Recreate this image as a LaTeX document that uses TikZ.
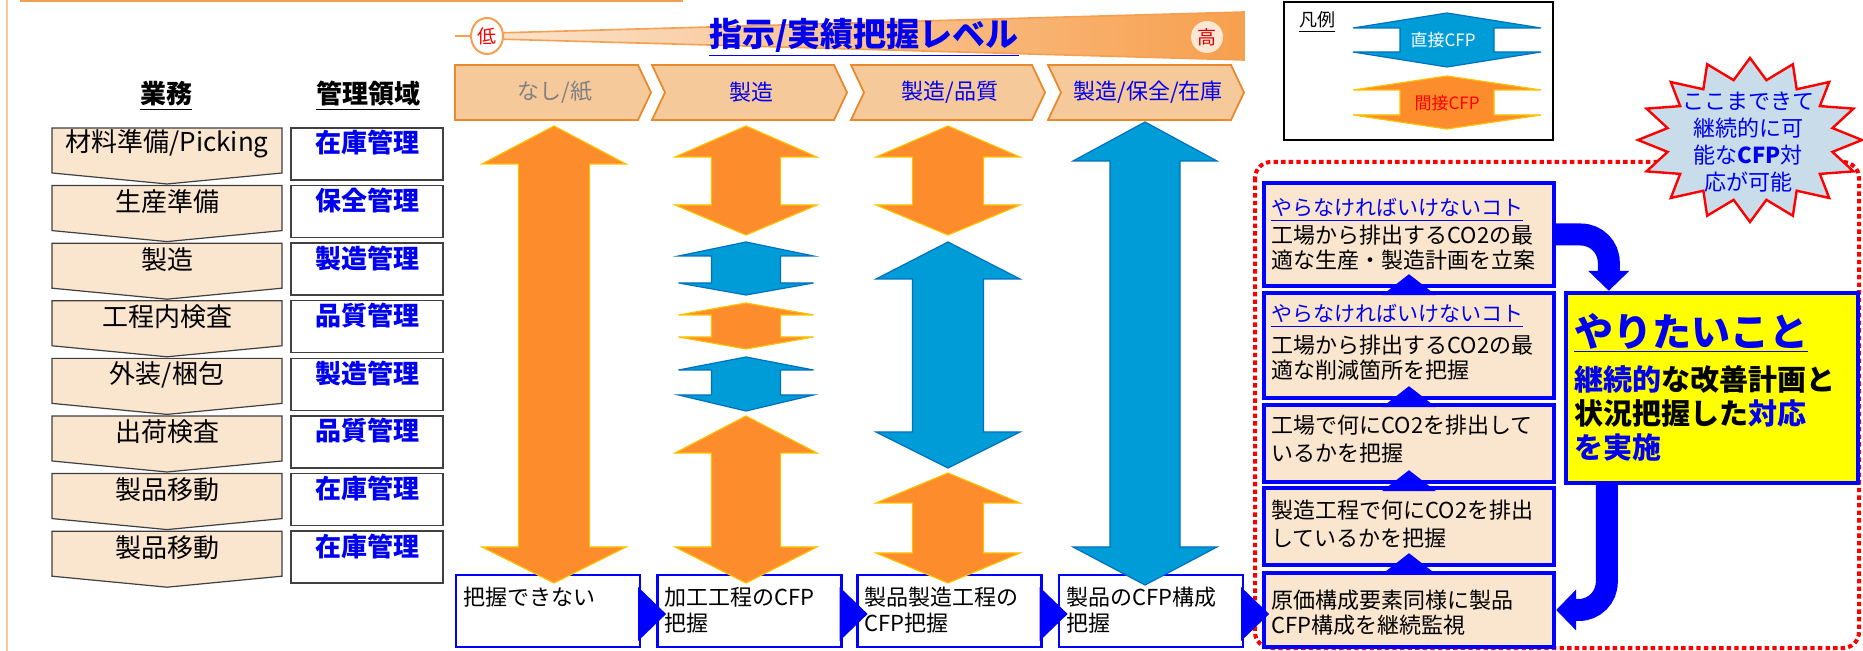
\documentclass[tikz,border=0pt]{standalone}
\usepackage{fontspec}
\setmainfont{Noto Sans CJK JP}
\usetikzlibrary{calc,arrows.meta,shapes.geometric}
\definecolor{rowfill}{HTML}{FAE5CE}
\definecolor{hdrfill}{HTML}{F6C99B}
\definecolor{hdredge}{HTML}{E8892C}
\definecolor{oarrfill}{HTML}{FC8C2C}
\definecolor{oarredge}{HTML}{FFC000}
\definecolor{barrfill}{HTML}{009CD8}
\definecolor{barredge}{HTML}{0070C0}
\definecolor{myblue}{HTML}{0000F0}
\definecolor{boxblue}{HTML}{0000FF}
\definecolor{wedgeL}{HTML}{FBE2CC}
\definecolor{wedgeR}{HTML}{F7A04E}
\definecolor{wedgeEdge}{HTML}{F4A050}
\definecolor{starfill}{HTML}{C9DCEA}
\definecolor{topline}{HTML}{F0A050}
\definecolor{leftline}{HTML}{F8C8A0}
\definecolor{highfill}{HTML}{FCE6D4}
\definecolor{ylw}{HTML}{FFFF00}

% up-down double arrow: cx, top tip, head base 1, head base 2, bottom tip, head half width, shaft half width, style
\newcommand\udarr[8]{%
 \filldraw[#8] (#1,#2) -- ({#1+#6},#3) -- ({#1+#7},#3) -- ({#1+#7},#4) -- ({#1+#6},#4) -- (#1,#5)
   -- ({#1-#6},#4) -- ({#1-#7},#4) -- ({#1-#7},#3) -- ({#1-#6},#3) -- cycle;}

% business row: index, top, text, management text
\newcommand\bizrow[4]{%
 \filldraw[rowch] (52,#2) -- (282,#2) -- (282,{#2+45}) -- (167,{#2+56}) -- (52,{#2+45}) -- cycle;
 \node[rowtxt] (r#1) at (167,{#2+16}) {#3};
 \node[mbox] (m#1) at (367,{#2+26}) {};
 \node[mtxt] (mt#1) at (367,{#2+15}) {#4};}

% header chevron: x0, x1, left notch, text, name
\newcommand\hchev[5]{%
 \filldraw[hch] (#1,65) -- ({#2-13},65) -- (#2,92.5) -- ({#2-13},120) -- (#1,120) -- ({#1+#3},92.5) -- cycle;
 \node[htxt] (#5) at ({(#1+#2)/2+2},92) {#4};}

\begin{document}
\begin{tikzpicture}[x=0.5pt,y=-0.5pt,
  rowch/.style={fill=rowfill, draw=black!75, line width=0.6pt},
  rowtxt/.style={font=\fontsize{13pt}{15pt}\selectfont, inner sep=0},
  mbox/.style={draw=black!75, line width=0.7pt, fill=white, minimum width=76pt, minimum height=26pt, inner sep=0},
  mtxt/.style={font=\fontsize{13pt}{15pt}\selectfont\bfseries, text=myblue, inner sep=0},
  hdr/.style={font=\fontsize{13pt}{15pt}\selectfont\bfseries, inner sep=0},
  hch/.style={fill=hdrfill, draw=hdredge, line width=0.9pt},
  htxt/.style={font=\fontsize{11pt}{13pt}\selectfont, text=myblue, inner sep=0},
  oarr/.style={fill=oarrfill, draw=oarredge, line width=0.6pt},
  barr/.style={fill=barrfill, draw=barredge, line width=0.6pt},
  bbox/.style={draw=boxblue, line width=1.1pt, fill=white, minimum width=92pt, minimum height=36pt, inner sep=0},
  btxt/.style={font=\fontsize{11pt}{13pt}\selectfont, inner sep=0, anchor=west},
  rbox/.style={draw=boxblue, line width=2.2pt, fill=rowfill, minimum width=145pt, inner sep=0},
  rtxt/.style={font=\fontsize{11pt}{12pt}\selectfont, inner sep=0, anchor=west},
  utxt/.style={font=\fontsize{10.5pt}{12pt}\selectfont, inner sep=0, anchor=west, text=myblue},
  ytxt/.style={font=\fontsize{14.5pt}{16pt}\selectfont\bfseries, inner sep=0, anchor=west},
  tri/.style={fill=boxblue},
  barrow/.style={draw=boxblue, line width=11pt, rounded corners=14pt, -{Triangle[length=10pt,width=20pt]}},
  lowc/.style={ellipse, draw=wedgeEdge, line width=1pt, fill=white, minimum width=16pt, minimum height=18pt, inner sep=0, text=red, font=\fontsize{9.5pt}{10pt}\selectfont},
  highc/.style={circle, fill=highfill, minimum size=16pt, inner sep=0, text=red!85!black, font=\fontsize{9.5pt}{10pt}\selectfont},
  burst/.style={fill=starfill, draw=red, line width=1.2pt},
  dotr/.style={draw=red, line width=2pt, dash pattern=on 2.2pt off 1.6pt, rounded corners=8pt}
 ]
\useasboundingbox (0,0) rectangle (1863,651);

% page edges
\draw[topline, line width=1.5pt] (20,1) -- (683,1);
\draw[leftline, line width=1pt] (7,0) -- (7,651);

% left headers
\node[hdr] (h1) at (166,96) {\underline{業務}};
\node[hdr] (h2) at (368,96) {\underline{管理領域}};

\bizrow{1}{128}{材料準備/Picking}{在庫管理}
\bizrow{2}{185.6}{生産準備}{保全管理}
\bizrow{3}{243.2}{製造}{製造管理}
\bizrow{4}{300.8}{工程内検査}{品質管理}
\bizrow{5}{358.4}{外装/梱包}{製造管理}
\bizrow{6}{416}{出荷検査}{品質管理}
\bizrow{7}{473.6}{製品移動}{在庫管理}
\bizrow{8}{531.2}{製品移動}{在庫管理}

% level bar
\shadedraw[left color=wedgeL, right color=wedgeR, draw=wedgeEdge, line width=0.8pt]
  (495,33) -- (1244,12) -- (1244,60) -- (495,39) -- cycle;
\node[lowc] (low) at (487,36) {低};
\draw[wedgeEdge, line width=1pt] (455,36) -- (low.west);
\node[highc] (high) at (1207,37) {高};
\node[font=\fontsize{16.5pt}{18pt}\selectfont\bfseries, text=myblue, inner sep=0] (title) at (864,37) {\underline{指示/実績把握レベル}};

% header chevrons
\hchev{455}{651}{0}{{\color{gray}なし/紙}}{c1}
\hchev{652}{847}{13}{製造}{c2}
\hchev{851}{1045}{13}{製造/品質}{c3}
\hchev{1048}{1244}{13}{製造/保全/在庫}{c4}

% bottom boxes
\node[bbox] (b1) at (548,611) {};
\node[bbox] (b2) at (749.5,611) {};
\node[bbox] (b3) at (949.5,611) {};
\node[bbox] (b4) at (1151,611) {};
\node[btxt] at ($(b1.west)+(8,-14)$) {把握できない};
\node[btxt] at ($(b2.west)+(8,-14)$) {加工工程のCFP};
\node[btxt] at ($(b2.west)+(8,12)$) {把握};
\node[btxt] at ($(b3.west)+(8,-14)$) {製品製造工程の};
\node[btxt] at ($(b3.west)+(8,12)$) {CFP把握};
\node[btxt] at ($(b4.west)+(8,-14)$) {製品のCFP構成};
\node[btxt] at ($(b4.west)+(8,12)$) {把握};

% big arrows
\udarr{554}{126}{164}{547}{583}{72}{35.5}{oarr}
\udarr{746}{126}{157}{205}{235}{71}{34.5}{oarr}
\udarr{746}{242}{256}{283}{295}{67.5}{34.5}{barr}
\udarr{746}{303}{315}{337}{349}{67.5}{34.5}{oarr}
\udarr{746}{357}{370}{395}{411}{67.5}{34.5}{barr}
\udarr{746}{416}{453}{547}{583}{71}{34.5}{oarr}
\udarr{948}{126}{157}{205}{235}{72}{35.5}{oarr}
\udarr{948}{242}{279}{432}{468}{72}{35.5}{barr}
\udarr{948}{473}{503}{553}{583}{72}{35.5}{oarr}
\udarr{1145}{122}{161}{547}{585}{72}{35}{barr}

% dotted frame
\draw[dotr] (1255,162) rectangle (1859,648);

% right boxes
\node[rbox, minimum height=51.5pt] (A) at (1409,234.5) {};
\node[rbox, minimum height=52.5pt] (B) at (1409,345.5) {};
\node[rbox, minimum height=38.5pt] (C) at (1409,443.5) {};
\node[rbox, minimum height=38.5pt] (D) at (1409,526.5) {};
\node[rbox, minimum height=37pt] (E) at (1409,610) {};
\node[draw=boxblue, line width=2.2pt, fill=ylw, minimum width=146pt, minimum height=95pt, inner sep=0] (Y) at (1712,388) {};

\node[utxt] at (1271,210) {\underline{やらなければいけないコト}};
\node[rtxt] at (1271,235) {工場から排出するCO2の最};
\node[rtxt] at (1271,260) {適な生産・製造計画を立案};
\node[utxt] at (1271,316) {\underline{やらなければいけないコト}};
\node[rtxt] at (1271,345) {工場から排出するCO2の最};
\node[rtxt] at (1271,370) {適な削減箇所を把握};
\node[rtxt] at (1271,425) {工場で何にCO2を排出して};
\node[rtxt] at (1271,453) {いるかを把握};
\node[rtxt] at (1271,510) {製造工程で何にCO2を排出};
\node[rtxt] at (1271,538) {しているかを把握};
\node[rtxt] at (1271,600) {原価構成要素同様に製品};
\node[rtxt] at (1271,625) {CFP構成を継続監視};

\node[inner sep=0, anchor=west, font=\fontsize{19.5pt}{21pt}\selectfont\bfseries, text=myblue] at (1574,333) {\underline{やりたいこと}};
\node[ytxt] at (1574,380) {{\color{myblue}継続的}な改善計画と};
\node[ytxt] at (1574,413) {状況把握した{\color{myblue}対応}};
\node[ytxt, text=myblue] at (1574,448) {を実施};

% up triangles between boxes
\foreach \u/\l in {A/B,B/C,C/D,D/E}{
  \fill[tri] ($(\u.south)+(-27,7)$) -- ($(\u.south)+(0,-14)$) -- ($(\u.south)+(27,7)$) -- cycle;
}
% right triangles after bottom boxes
\foreach \b in {b1,b2,b3,b4}{
  \fill[tri] ($(\b.east)+(-3,-24)$) -- ($(\b.east)+(25,3)$) -- ($(\b.east)+(-3,30)$) -- cycle;
}

% bent arrows
\coordinate (yin) at ($(Y.north west)+(45,0)$);
\coordinate (yout) at ($(Y.south west)+(43,0)$);
\draw[barrow] (A.east) -| (yin);
\draw[barrow] (yout) |- (E.east);

% legend
\node[draw, line width=0.7pt, minimum width=134.5pt, minimum height=69pt, inner sep=0] (leg) at (1418.5,71) {};
\node[inner sep=0, font=\fontsize{9pt}{10pt}\selectfont] (legt) at (1317,22) {\underline{凡例}};
\udarr{1447}{13}{28}{52}{67}{94}{47}{barr}
\node[inner sep=0, text=white, font=\fontsize{8.5pt}{10pt}\selectfont] (ld) at (1443,40) {直接CFP};
\udarr{1447}{76}{90}{115}{129}{94}{47}{oarr}
\node[inner sep=0, text=red, font=\fontsize{8.5pt}{10pt}\selectfont] (li) at (1447,103) {間接CFP};

% starburst
\filldraw[burst] (1750,58) \foreach \k in {1,...,31}{
   -- ({1750+ifthenelse(mod(\k,2)==0,112,84)*cos(90+\k*11.25)}, {140-ifthenelse(mod(\k,2)==0,82,61)*sin(90+\k*11.25)}) } -- cycle;
\node[align=center, inner sep=0, text=myblue, font=\fontsize{11pt}{13.5pt}\selectfont] (burst) at (1748,142) {ここまできて\\継続的に可\\能な\textbf{CFP}対\\応が可能};
\end{tikzpicture}
\end{document}
